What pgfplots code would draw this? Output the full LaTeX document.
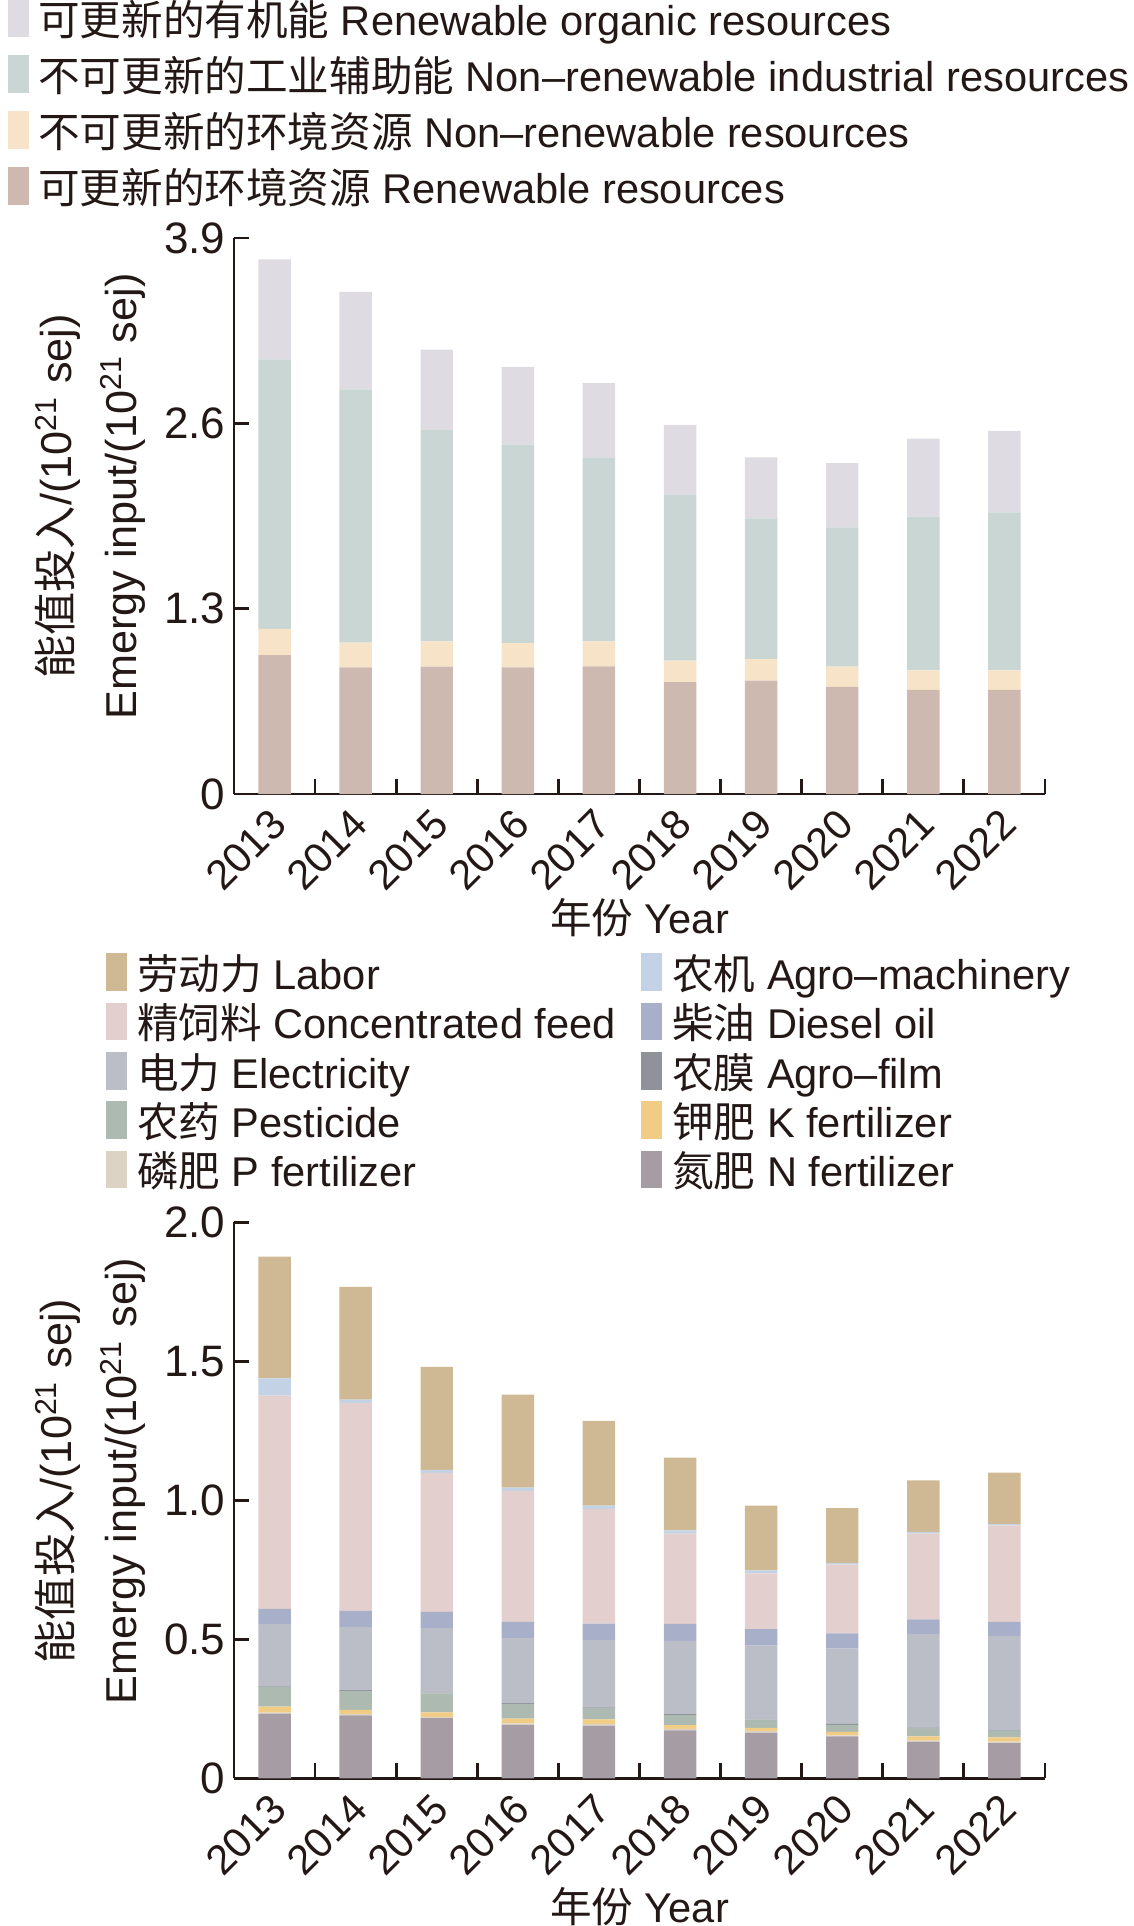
\documentclass[border=0pt]{standalone}
\usepackage{pgfplots}
\pgfplotsset{compat=1.18}
\usepackage{pgfplotstable}
\usepackage{fontspec}
\setmainfont{Liberation Sans}
\newfontfamily\cjk{Noto Sans CJK SC}

\definecolor{axc}{HTML}{231815}
\definecolor{cRO}{HTML}{DEDBE3}
\definecolor{cNRI}{HTML}{C9D6D3}
\definecolor{cNR}{HTML}{F7E3C7}
\definecolor{cR}{HTML}{CEB9B0}
\definecolor{cLabor}{HTML}{CFB994}
\definecolor{cMach}{HTML}{C3D3E5}
\definecolor{cFeed}{HTML}{E3CFCD}
\definecolor{cDiesel}{HTML}{A8AFC8}
\definecolor{cElec}{HTML}{BBBEC7}
\definecolor{cFilm}{HTML}{8F9299}
\definecolor{cPest}{HTML}{ACBAB2}
\definecolor{cK}{HTML}{F0CC85}
\definecolor{cP}{HTML}{DCD3C5}
\definecolor{cN}{HTML}{A69CA3}

\pgfplotstableread{
x R NR NRI RO
0 0.975 0.184 1.890 0.701
1 0.888 0.174 1.776 0.685
2 0.893 0.177 1.483 0.564
3 0.888 0.171 1.392 0.545
4 0.896 0.174 1.291 0.522
5 0.785 0.150 1.162 0.493
6 0.796 0.150 0.988 0.427
7 0.751 0.142 0.978 0.450
8 0.730 0.137 1.078 0.548
9 0.730 0.137 1.109 0.572
}\topdata

\pgfplotstableread{
x N P K Pest Film Elec Diesel Feed Mach Labor
0 0.233 0.004 0.021 0.070 0.003 0.224 0.055 0.767 0.062 0.438
1 0.227 0.004 0.016 0.068 0.003 0.226 0.059 0.747 0.013 0.405
2 0.217 0.004 0.017 0.068 0.003 0.232 0.058 0.500 0.011 0.370
3 0.193 0.005 0.017 0.053 0.003 0.234 0.058 0.471 0.012 0.335
4 0.190 0.006 0.016 0.041 0.003 0.242 0.059 0.412 0.012 0.305
5 0.173 0.005 0.014 0.036 0.003 0.264 0.061 0.325 0.011 0.262
6 0.165 0.005 0.012 0.030 0.003 0.263 0.059 0.201 0.010 0.233
7 0.151 0.004 0.012 0.026 0.003 0.271 0.055 0.247 0.006 0.197
8 0.132 0.004 0.015 0.028 0.003 0.338 0.052 0.309 0.006 0.185
9 0.127 0.005 0.016 0.022 0.003 0.340 0.050 0.347 0.006 0.184
}\botdata

\pgfplotsset{
  myaxis/.style={
    scale only axis, width=202.75pt, height=139pt,
    ybar stacked, bar width=0.4,
    xmin=-0.5, xmax=9.5, ymin=0,
    axis x line*=bottom, axis y line*=left,
    axis line style={line width=0.7pt, color=axc},
    every tick/.style={line width=0.7pt, color=axc},
    tick align=inside,
    major tick length=3.75pt, minor tick length=3.75pt,
    xtick={0,...,9},
    xticklabels={2013,2014,2015,2016,2017,2018,2019,2020,2021,2022},
    major x tick style={draw=none},
    minor xtick={-0.5,0.5,...,9.5},
    /pgf/number format/assume math mode=true,
    xticklabel style={xshift=1.1pt, yshift=-5.7pt, rotate=45, anchor=east, inner sep=0pt},
    yticklabel style={anchor=east, inner sep=0pt, xshift=-2pt, font=\fontsize{11}{13}\selectfont},
    xlabel={{\cjk 年份} Year},
    ylabel={{\cjk 能值投入}/(10\textsuperscript{21} sej)\\Emergy input/(10\textsuperscript{21} sej)},
    ylabel style={at={(axis description cs:-0.177,0.535)}, anchor=center, align=center,
      font=\fontsize{10.8}{16.25}\selectfont},
    legend cell align=left,
    reverse legend,
    legend image code/.code={\fill[##1,draw=none] (0pt,-3.9pt) rectangle (5.3pt,5.5pt);},
  }
}

\begin{document}
\begin{tikzpicture}[font=\fontsize{10.4}{12.5}\selectfont, color=axc]
\path[use as bounding box] (0,0) rectangle (283.5pt,-481.5pt);

\begin{axis}[myaxis, at={(58.5pt,-198.5pt)}, anchor=south west,
  ymax=3.9, ytick={0,1.3,2.6,3.9}, yticklabels={0,1.3,2.6,3.9},
  xlabel style={at={(axis description cs:0.5,0)}, anchor=center, yshift=-31pt},
  legend style={at={(axis description cs:-0.2944,1.4456)}, anchor=north west,
    draw=none, fill=none, row sep=3.5pt,
    nodes={inner sep=0pt, text height=8.5pt, text depth=1.5pt},
    /tikz/every odd column/.append style={column sep=2.25pt}},
]
\addplot[fill=cR, draw=none] table[x=x,y=R]{\topdata};
\addlegendentry{{\cjk 可更新的环境资源} Renewable resources}
\addplot[fill=cNR, draw=none] table[x=x,y=NR]{\topdata};
\addlegendentry{{\cjk 不可更新的环境资源} Non–renewable resources}
\addplot[fill=cNRI, draw=none] table[x=x,y=NRI]{\topdata};
\addlegendentry{{\cjk 不可更新的工业辅助能} Non–renewable industrial resources}
\addplot[fill=cRO, draw=none] table[x=x,y=RO]{\topdata};
\addlegendentry{{\cjk 可更新的有机能} Renewable organic resources}
\end{axis}

\begin{axis}[myaxis, at={(58.5pt,-444.6pt)}, anchor=south west,
  ymax=2.0, ytick={0,0.5,1.0,1.5,2.0}, yticklabels={0,0.5,1.0,1.5,2.0},
  xlabel style={at={(axis description cs:0.5,0)}, anchor=center, yshift=-32pt},
  legend columns=2,
  legend style={at={(axis description cs:-0.1737,1.500)}, anchor=north west,
    draw=none, fill=none, row sep=1.85pt,
    nodes={inner sep=0pt, text height=8.5pt, text depth=1.5pt},
    /tikz/every odd column/.append style={column sep=2.5pt}},
]
\addplot[fill=cN, draw=none] table[x=x,y=N]{\botdata};
\addlegendentry{{\cjk 氮肥} N fertilizer}
\addplot[fill=cP, draw=none] table[x=x,y=P]{\botdata};
\addlegendentry{\makebox[126pt][l]{{\cjk 磷肥} P fertilizer}}
\addplot[fill=cK, draw=none] table[x=x,y=K]{\botdata};
\addlegendentry{{\cjk 钾肥} K fertilizer}
\addplot[fill=cPest, draw=none] table[x=x,y=Pest]{\botdata};
\addlegendentry{\makebox[126pt][l]{{\cjk 农药} Pesticide}}
\addplot[fill=cFilm, draw=none] table[x=x,y=Film]{\botdata};
\addlegendentry{{\cjk 农膜} Agro–film}
\addplot[fill=cElec, draw=none] table[x=x,y=Elec]{\botdata};
\addlegendentry{\makebox[126pt][l]{{\cjk 电力} Electricity}}
\addplot[fill=cDiesel, draw=none] table[x=x,y=Diesel]{\botdata};
\addlegendentry{{\cjk 柴油} Diesel oil}
\addplot[fill=cFeed, draw=none] table[x=x,y=Feed]{\botdata};
\addlegendentry{\makebox[126pt][l]{{\cjk 精饲料} Concentrated feed}}
\addplot[fill=cMach, draw=none] table[x=x,y=Mach]{\botdata};
\addlegendentry{{\cjk 农机} Agro–machinery}
\addplot[fill=cLabor, draw=none] table[x=x,y=Labor]{\botdata};
\addlegendentry{\makebox[126pt][l]{{\cjk 劳动力} Labor}}
\end{axis}
\end{tikzpicture}
\end{document}
